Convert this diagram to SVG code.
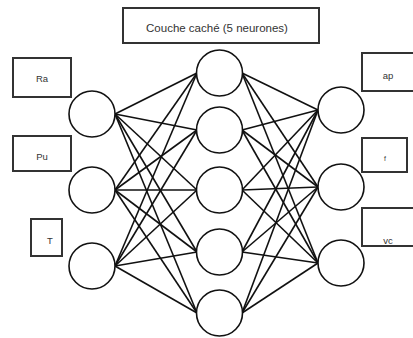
<svg xmlns="http://www.w3.org/2000/svg" width="413" height="338" viewBox="0 0 413 338">
<style>
.box{fill:#fff;stroke:#333;stroke-width:2}
.n{fill:#fff;stroke:#111;stroke-width:1.6}
.t{font-family:"Liberation Sans",Arial,sans-serif;font-size:9.5px;fill:#333;text-anchor:middle;dominant-baseline:central}
#edges line{stroke:#111;stroke-width:1.6}
</style>
<rect width="413" height="338" fill="#fff"/>
<g id="edges">
<line x1="115" y1="114" x2="197" y2="73"/>
<line x1="115" y1="114" x2="197" y2="130"/>
<line x1="115" y1="114" x2="197" y2="190"/>
<line x1="115" y1="114" x2="197" y2="252"/>
<line x1="115" y1="114" x2="197" y2="313"/>
<line x1="115" y1="190" x2="197" y2="73"/>
<line x1="115" y1="190" x2="197" y2="130"/>
<line x1="115" y1="190" x2="197" y2="190"/>
<line x1="115" y1="190" x2="197" y2="252"/>
<line x1="115" y1="190" x2="197" y2="313"/>
<line x1="115" y1="266" x2="197" y2="73"/>
<line x1="115" y1="266" x2="197" y2="130"/>
<line x1="115" y1="266" x2="197" y2="190"/>
<line x1="115" y1="266" x2="197" y2="252"/>
<line x1="115" y1="266" x2="197" y2="313"/>
<line x1="242" y1="73" x2="318" y2="110"/>
<line x1="242" y1="73" x2="318" y2="187"/>
<line x1="242" y1="73" x2="318" y2="263"/>
<line x1="242" y1="130" x2="318" y2="110"/>
<line x1="242" y1="130" x2="318" y2="187"/>
<line x1="242" y1="130" x2="318" y2="263"/>
<line x1="242" y1="190" x2="318" y2="110"/>
<line x1="242" y1="190" x2="318" y2="187"/>
<line x1="242" y1="190" x2="318" y2="263"/>
<line x1="242" y1="252" x2="318" y2="110"/>
<line x1="242" y1="252" x2="318" y2="187"/>
<line x1="242" y1="252" x2="318" y2="263"/>
<line x1="242" y1="313" x2="318" y2="110"/>
<line x1="242" y1="313" x2="318" y2="187"/>
<line x1="242" y1="313" x2="318" y2="263"/>
</g>
<g id="title"><rect class="box" x="123" y="8" width="196" height="35"/><text class="t" x="217" y="28" style="font-size:11.5px">Couche caché (5 neurones)</text></g>
<g id="label-Ra"><rect class="box" x="13" y="58" width="58" height="39"/><text class="t" x="42" y="78">Ra</text></g>
<g id="label-Pu"><rect class="box" x="13" y="136" width="58" height="35"/><text class="t" x="42" y="156">Pu</text></g>
<g id="label-T"><rect class="box" x="31" y="219" width="31" height="37"/><text class="t" x="50" y="240">T</text></g>
<g id="label-ap"><rect class="box" x="362" y="53" width="56" height="38"/><text class="t" x="388" y="75">ap</text></g>
<g id="label-f"><rect class="box" x="362" y="138" width="45" height="34"/><text class="t" x="385" y="158" style="font-size:7px">f</text></g>
<g id="label-vc"><rect class="box" x="362" y="208" width="56" height="38"/><text class="t" x="388" y="240">vc</text></g>
<g id="in1"><circle class="n" cx="92" cy="114" r="23"/></g>
<g id="in2"><circle class="n" cx="92" cy="190" r="23"/></g>
<g id="in3"><circle class="n" cx="92" cy="266" r="23"/></g>
<g id="h1"><circle class="n" cx="219.5" cy="73" r="23"/></g>
<g id="h2"><circle class="n" cx="219.5" cy="130" r="23"/></g>
<g id="h3"><circle class="n" cx="219.5" cy="190" r="23"/></g>
<g id="h4"><circle class="n" cx="219.5" cy="252" r="23"/></g>
<g id="h5"><circle class="n" cx="219.5" cy="313" r="23"/></g>
<g id="out1"><circle class="n" cx="341" cy="110" r="23"/></g>
<g id="out2"><circle class="n" cx="341" cy="187" r="23"/></g>
<g id="out3"><circle class="n" cx="341" cy="263" r="23"/></g>
</svg>
